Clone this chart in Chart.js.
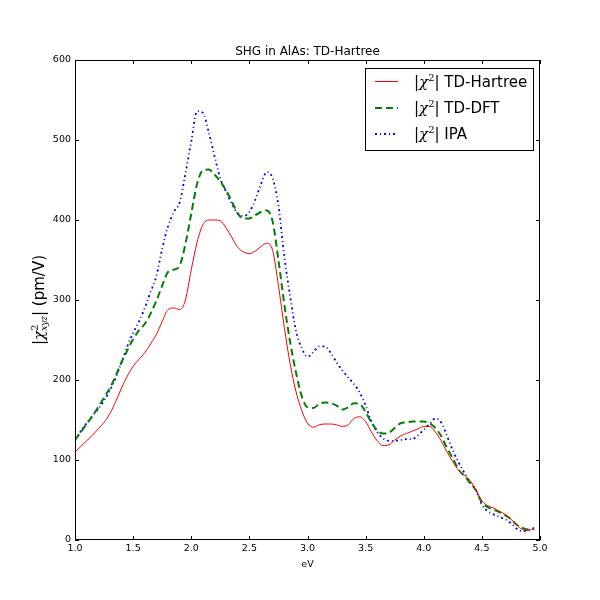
<!DOCTYPE html>
<html>
<head>
<meta charset="utf-8">
<script src="https://cdn.jsdelivr.net/npm/chart.js@4.4.1/dist/chart.umd.min.js"></script>
<style>
  html, body { margin: 0; padding: 0; background: #fff; }
  #wrap { width: 600px; height: 600px; }
</style>
</head>
<body>
<div id="wrap"><canvas id="shgChart" width="600" height="600"></canvas></div>
<script>
// photon energy (eV)
const energy = [1.00, 1.05, 1.10, 1.15, 1.20, 1.25, 1.30, 1.35, 1.40, 1.45,
    1.50, 1.55, 1.60, 1.65, 1.70, 1.75, 1.80, 1.85, 1.90, 1.95,
    2.00, 2.05, 2.10, 2.15, 2.20, 2.25, 2.30, 2.35, 2.40, 2.45,
    2.50, 2.55, 2.60, 2.65, 2.70, 2.75, 2.80, 2.85, 2.90, 2.95,
    3.00, 3.05, 3.10, 3.15, 3.20, 3.25, 3.30, 3.35, 3.40, 3.45,
    3.50, 3.55, 3.60, 3.65, 3.70, 3.75, 3.80, 3.85, 3.90, 3.95,
    4.00, 4.05, 4.10, 4.15, 4.20, 4.25, 4.30, 4.35, 4.40, 4.45,
    4.50, 4.55, 4.60, 4.65, 4.70, 4.75, 4.80, 4.85, 4.90, 4.95];

// |chi^2_xyz| in pm/V
const tdHartree = [110, 117, 124, 131, 139, 147, 158, 173, 190, 205,
    217, 226, 234, 245, 257, 273, 288, 290, 288, 300,
    338, 372, 394, 400, 400, 399, 390, 378, 366, 360,
    358, 361, 367, 371, 362, 318, 266, 221, 186, 162,
    146, 141, 144, 145, 145, 144, 142, 144, 152, 154,
    148, 135, 124, 118, 119, 125, 130, 133, 136, 139,
    142, 142, 135, 124, 110, 98, 87, 81, 74, 62,
    49, 43, 40, 36, 32, 26, 19, 13, 12, 15];

const tdDft = [125, 135, 145, 155, 166, 178, 190, 205, 222, 237,
    251, 262, 270, 283, 299, 318, 335, 338, 343, 370,
    408, 445, 462, 463, 457, 448, 437, 423, 408, 402,
    402, 406, 410, 412, 398, 350, 295, 248, 210, 180,
    166, 165, 170, 172, 171, 168, 163, 166, 171, 170,
    160, 147, 137, 133, 134, 140, 146, 147, 148, 148,
    148, 146, 140, 130, 115, 102, 88, 80, 71, 62,
    47, 41, 38, 35, 31, 26, 19, 15, 13, 15];

const ipa = [125, 136, 146, 155, 164, 174, 187, 203, 222, 242,
    259, 273, 290, 310, 330, 364, 392, 410, 422, 458,
    498, 536, 534, 510, 480, 452, 435, 420, 408, 405,
    410, 425, 445, 460, 452, 418, 355, 305, 262, 240,
    229, 235, 242, 242, 234, 222, 212, 203, 195, 184,
    168, 148, 135, 127, 124, 124, 125, 126, 126, 131,
    138, 145, 152, 147, 130, 112, 97, 84, 72, 62,
    44, 36, 32, 29, 26, 21, 14, 11, 12, 14];

const seriesNames = ['TD-Hartree', 'TD-DFT', 'IPA'];
const seriesValues = [tdHartree, tdDft, ipa];
const seriesColors = ['#ff0000', '#008000', '#0000ff'];
const seriesWidths = [1, 2, 1.8];
const seriesDash = [[], [7, 4], [2, 3, 1, 3]];

const sansFont = 'DejaVu Sans';
const serifFont = 'DejaVu Serif';

// measure / draw a run of text pieces; sup+sub pieces are stacked
function measureRich(ctx, parts) {
    let w = 0;
    parts.forEach(p => {
        ctx.font = p.font;
        if (p.sup !== undefined) {
            p.w = ctx.measureText(p.sup).width;
            if (p.sub) {
                ctx.font = p.subFont;
                p.w = Math.max(p.w, ctx.measureText(p.sub).width);
            }
        } else {
            p.w = ctx.measureText(p.t).width;
        }
        w += p.w;
    });
    return w;
}
function drawRich(ctx, parts, x, y) {
    parts.forEach(p => {
        ctx.font = p.font;
        if (p.sup !== undefined) {
            ctx.fillText(p.sup, x, y - p.supDy);
            if (p.sub) {
                ctx.font = p.subFont;
                ctx.fillText(p.sub, x, y + p.subDy);
            }
        } else {
            ctx.fillText(p.t, x, y);
        }
        x += p.w;
    });
}

const textPlugin = {
    id: 'textPlugin',
    afterDraw(chart) {
        const { ctx, chartArea: { top, bottom, left, right }, scales: { x, y } } = chart;
        ctx.save();
        // frame
        ctx.strokeStyle = '#000';
        ctx.lineWidth = 1;
        ctx.strokeRect(left + 0.5, top + 0.5, right - left - 1, bottom - top - 1);
        // inward ticks on all four sides
        ctx.beginPath();
        x.ticks.forEach(t => {
            const px = Math.round(x.getPixelForValue(t.value)) + 0.5;
            ctx.moveTo(px, bottom); ctx.lineTo(px, bottom - 4);
            ctx.moveTo(px, top); ctx.lineTo(px, top + 4);
        });
        y.ticks.forEach(t => {
            const py = Math.round(y.getPixelForValue(t.value)) + 0.5;
            ctx.moveTo(left, py); ctx.lineTo(left + 4, py);
            ctx.moveTo(right, py); ctx.lineTo(right - 4, py);
        });
        ctx.stroke();

        ctx.fillStyle = '#000';
        ctx.textBaseline = 'alphabetic';
        // title
        ctx.font = '12px ' + sansFont;
        ctx.textAlign = 'center';
        ctx.fillText('SHG in AlAs: TD-Hartree', (left + right) / 2, 55);
        // x label
        ctx.font = '9.5px ' + sansFont;
        ctx.fillText('eV', (left + right) / 2, 567);

        // y label
        ctx.textAlign = 'left';
        const yParts = [
            { t: '|', font: '15px ' + sansFont },
            { t: 'χ', font: 'italic 15px ' + serifFont },
            { sup: '2', sub: 'xyz', font: '10px ' + serifFont, subFont: 'italic 9px ' + serifFont, supDy: 6, subDy: 3 },
            { t: '|', font: '15px ' + sansFont },
            { t: ' (pm/V)', font: '15px ' + sansFont }
        ];
        const yw = measureRich(ctx, yParts);
        ctx.translate(44, (top + bottom) / 2);
        ctx.rotate(-Math.PI / 2);
        drawRich(ctx, yParts, -yw / 2, 0);
        ctx.setTransform(1, 0, 0, 1, 0, 0);
        ctx.restore();

        // legend
        ctx.save();
        const lx = 365, ly = 68, lw = 168, lh = 82;
        ctx.fillStyle = '#fff';
        ctx.fillRect(lx, ly, lw, lh);
        ctx.strokeStyle = '#000';
        ctx.lineWidth = 1;
        ctx.strokeRect(lx + 0.5, ly + 0.5, lw, lh);
        const rowY = [81.5, 108, 134];
        seriesNames.forEach((name, i) => {
            ctx.beginPath();
            ctx.strokeStyle = seriesColors[i];
            ctx.lineWidth = seriesWidths[i];
            ctx.setLineDash(seriesDash[i]);
            ctx.moveTo(375, rowY[i]);
            ctx.lineTo(398, rowY[i]);
            ctx.stroke();
            ctx.setLineDash([]);
            ctx.fillStyle = '#000';
            ctx.textAlign = 'left';
            ctx.textBaseline = 'alphabetic';
            const parts = [
                { t: '|', font: '15px ' + sansFont },
                { t: 'χ', font: 'italic 15px ' + serifFont },
                { sup: '2', font: '10px ' + serifFont, supDy: 6 },
                { t: '|', font: '15px ' + sansFont },
                { t: ' ' + name, font: '15px ' + sansFont }
            ];
            measureRich(ctx, parts);
            drawRich(ctx, parts, 414, rowY[i] + 5);
        });
        ctx.restore();
    }
};

const chartData = {
    datasets: seriesNames.map((name, i) => ({
        label: '|χ²| ' + name,
        data: energy.map((e, k) => ({ x: e, y: seriesValues[i][k] })),
        borderColor: seriesColors[i],
        backgroundColor: seriesColors[i],
        borderWidth: seriesWidths[i],
        borderDash: seriesDash[i],
        pointRadius: 0,
        fill: false,
        cubicInterpolationMode: 'monotone'
    }))
};

const config = {
    type: 'line',
    data: chartData,
    options: {
        animation: { duration: 0 },
        responsive: false,
        devicePixelRatio: 1,
        layout: {
            padding: { left: 0, top: 60, right: 60, bottom: 0 }
        },
        plugins: {
            legend: { display: false },
            title: { display: false },
            tooltip: { enabled: false }
        },
        scales: {
            x: {
                type: 'linear',
                min: 1,
                max: 5,
                afterFit: (scale) => { scale.height = 60; },
                border: { display: false },
                grid: { display: false, drawTicks: false },
                ticks: {
                    stepSize: 0.5,
                    padding: 3,
                    color: '#000',
                    maxRotation: 0,
                    font: { family: sansFont, size: 9.5 },
                    callback: (v) => Number(v).toFixed(1)
                }
            },
            y: {
                min: 0,
                max: 600,
                afterFit: (scale) => { scale.width = 75; },
                border: { display: false },
                grid: { display: false, drawTicks: false },
                ticks: {
                    stepSize: 100,
                    padding: 4,
                    color: '#000',
                    font: { family: sansFont, size: 9.5 }
                }
            }
        }
    },
    plugins: [textPlugin]
};

const shgChart = new Chart('shgChart', config);
</script>
</body>
</html>
